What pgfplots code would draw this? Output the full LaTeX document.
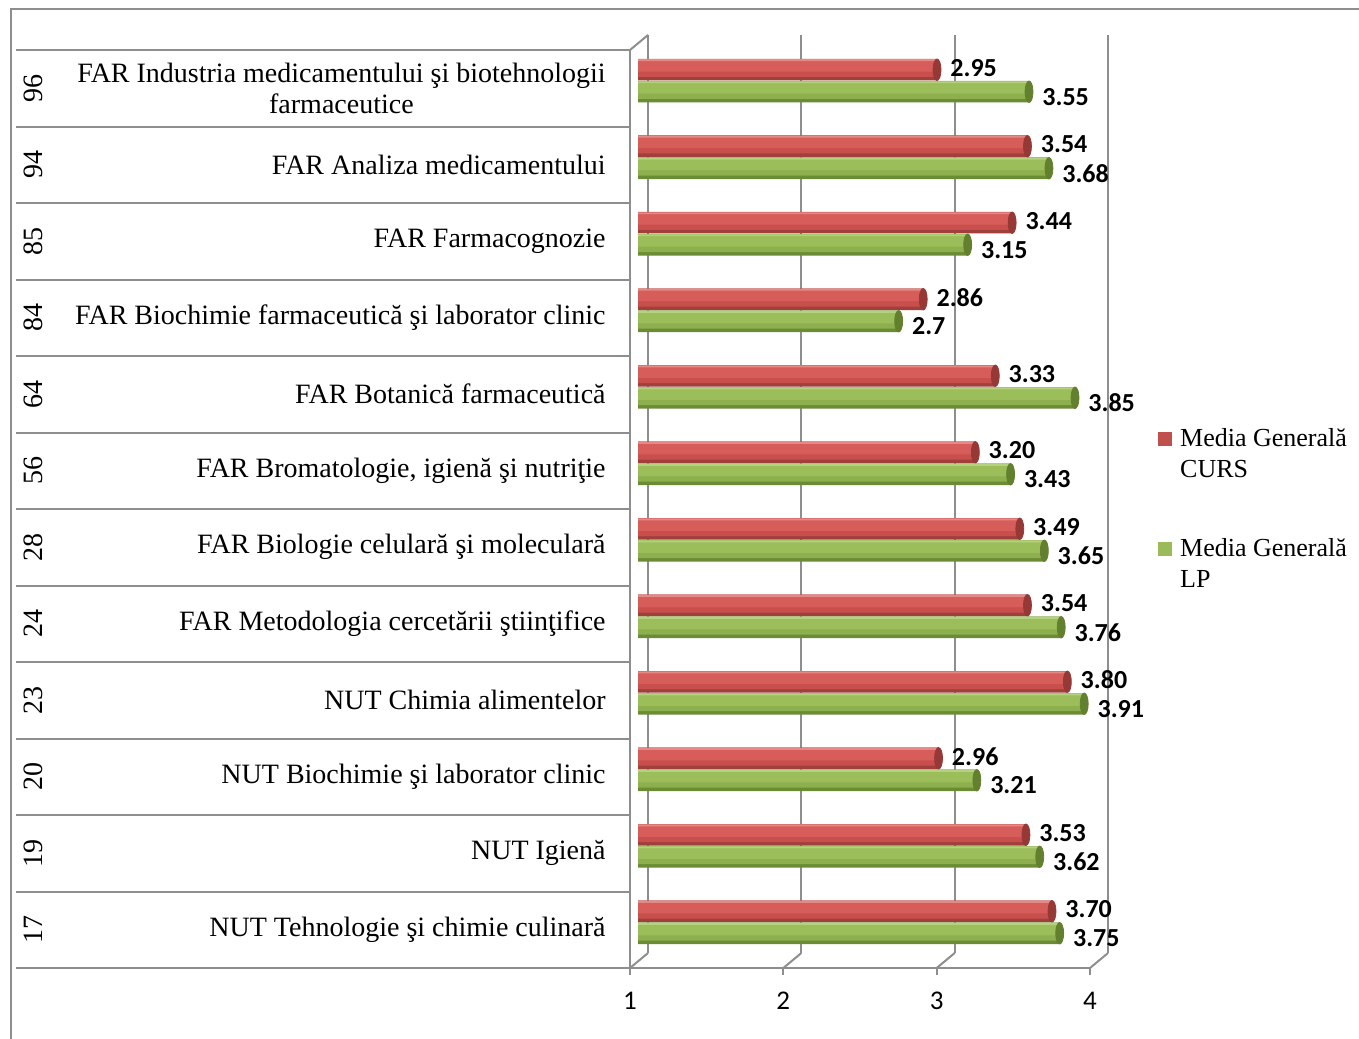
\documentclass[border=0pt]{standalone}
\usepackage{pgfplots}
\pgfplotsset{compat=1.18}
\usepackage{pgfplotstable}
\usepackage{fontspec}
\setmainfont{Liberation Serif}
\newfontfamily\carlito{Carlito}
\definecolor{gridgray}{HTML}{8E8E8E}
\definecolor{r1}{HTML}{A0403D}
\definecolor{r2}{HTML}{C94F4D}
\definecolor{r3}{HTML}{D65D5A}
\definecolor{r4}{HTML}{E48986}
\definecolor{rc}{HTML}{963836}
\definecolor{g1}{HTML}{6B8B35}
\definecolor{g2}{HTML}{8DAF4D}
\definecolor{g3}{HTML}{9BBD5A}
\definecolor{g4}{HTML}{B5D07F}
\definecolor{gc}{HTML}{62802D}
\definecolor{legr}{HTML}{C0504D}
\definecolor{legg}{HTML}{9BBB59}

\pgfplotstableread{
y curs cl lp ll
0 3.70 3.70 3.75 3.75
1 3.53 3.53 3.62 3.62
2 2.96 2.96 3.21 3.21
3 3.80 3.80 3.91 3.91
4 3.54 3.54 3.76 3.76
5 3.49 3.49 3.65 3.65
6 3.20 3.20 3.43 3.43
7 3.33 3.33 3.85 3.85
8 2.86 2.86 2.7 2.7
9 3.44 3.44 3.15 3.15
10 3.54 3.54 3.68 3.68
11 2.95 2.95 3.55 3.55
}\data

\begin{document}
\begin{tikzpicture}
\useasboundingbox (0,0) rectangle (679.5pt,-519pt);
% front frame, ticks, category labels, back-wall grid
\begin{axis}[
  at={(315pt,-484pt)}, anchor=south west,
  scale only axis, width=230pt, height=459pt,
  xmin=1, xmax=4, ymin=-0.5, ymax=11.5,
  clip=false,
  axis x line*=bottom, axis y line*=left,
  axis line style={gridgray, line width=1pt},
  tick align=outside,
  major tick length=3.5pt,
  minor tick length=307pt,
  xtick={1,2,3,4},
  /pgf/number format/assume math mode=true,
  xticklabel style={font=\fontsize{13.5}{15}\carlito, inner sep=0pt, yshift=-8.5pt},
  x tick style={gridgray, line width=1pt},
  ytick={0,...,11},
  minor ytick={-0.5,0.5,...,11.5},
  major y tick style={draw=none},
  minor y tick style={draw=gridgray, line width=1pt},
  yticklabels={
    NUT Tehnologie şi chimie culinară,
    NUT Igienă,
    NUT Biochimie şi laborator clinic,
    NUT Chimia alimentelor,
    FAR Metodologia cercetării ştiinţifice,
    FAR Biologie celulară şi moleculară,
    {FAR Bromatologie, igienă şi nutriţie},
    FAR Botanică farmaceutică,
    FAR Biochimie farmaceutică şi laborator clinic,
    FAR Farmacognozie,
    FAR Analiza medicamentului,
    {FAR Industria medicamentului şi biotehnologii\\farmaceutice}},
  yticklabel style={font=\fontsize{14}{15.5}\selectfont, inner sep=0pt, align=center, xshift=-8.5pt},
  extra y ticks={0,...,11},
  extra y tick labels={17,19,20,23,24,28,56,64,84,85,94,96},
  extra y tick style={tick style={draw=none}, yticklabel style={anchor=center, xshift=-286.5pt, rotate=90}},
  xmajorgrids,
  x grid style={gridgray, line width=1pt, xshift=9pt, yshift=7.5pt},
]
\draw[gridgray, line width=1pt] (axis cs:1,-0.5) -- ++(9pt,7.5pt);
\draw[gridgray, line width=1pt] (axis cs:2,-0.5) -- ++(9pt,7.5pt);
\draw[gridgray, line width=1pt] (axis cs:3,-0.5) -- ++(9pt,7.5pt);
\draw[gridgray, line width=1pt] (axis cs:4,-0.5) -- ++(9pt,7.5pt);
\draw[gridgray, line width=1pt] (axis cs:1,11.5) -- ++(9pt,7.5pt);
\end{axis}
% bars
\begin{axis}[
  at={(319pt,-480.25pt)}, anchor=south west,
  scale only axis, width=230pt, height=459pt,
  xmin=1, xmax=4, ymin=-0.5, ymax=11.5,
  hide axis,
  legend style={at={(1.1304,0.580)}, anchor=north west, draw=none, fill=none,
    inner sep=0pt, font=\fontsize{13}{15.5}\selectfont, row sep=29pt, column sep=4pt,
    nodes={inner sep=0pt}, cells={align=left}},
  legend cell align=left,
]
% CURS (red)
\addplot[xbar, bar width=0.2810, bar shift=0.1438, fill=r1, draw=none, forget plot,
  nodes near coords, point meta=explicit symbolic,
  nodes near coords style={anchor=west, inner sep=0pt, xshift=6.5pt, yshift=6.5pt, font=\fontsize{13}{15}\carlito\bfseries, text=black}]
  table[x=curs, y=y, meta=cl] {\data};
\addplot[xbar, bar width=0.2353, bar shift=0.1667, fill=r2, draw=none, forget plot] table[x=curs, y=y] {\data};
\addplot[xbar, bar width=0.1438, bar shift=0.1896, fill=r3, draw=none, forget plot] table[x=curs, y=y] {\data};
\addplot[xbar, bar width=0.0261, bar shift=0.2680, fill=r4, draw=none, forget plot] table[x=curs, y=y] {\data};
\addplot[only marks, mark=*, mark size=5.375pt, color=rc, mark options={draw=none, fill=rc, xscale=0.37}, forget plot]
  table[x=curs, y expr=\thisrow{y}+0.1438] {\data};
% LP (green)
\addplot[xbar, bar width=0.2810, bar shift=-0.1438, fill=g1, draw=none, forget plot,
  nodes near coords, point meta=explicit symbolic,
  nodes near coords style={anchor=west, inner sep=0pt, xshift=6.5pt, yshift=-8pt, font=\fontsize{13}{15}\carlito\bfseries, text=black}]
  table[x=lp, y=y, meta=ll] {\data};
\addplot[xbar, bar width=0.2353, bar shift=-0.1209, fill=g2, draw=none, forget plot] table[x=lp, y=y] {\data};
\addplot[xbar, bar width=0.1438, bar shift=-0.0980, fill=g3, draw=none, forget plot] table[x=lp, y=y] {\data};
\addplot[xbar, bar width=0.0261, bar shift=-0.0196, fill=g4, draw=none, forget plot] table[x=lp, y=y] {\data};
\addplot[only marks, mark=*, mark size=5.375pt, color=gc, mark options={draw=none, fill=gc, xscale=0.37}, forget plot]
  table[x=lp, y expr=\thisrow{y}-0.1438] {\data};
\addlegendimage{legend image code/.code={\fill[legr] (0pt,4.75pt) rectangle (6.5pt,11.25pt);}}
\addlegendentry{Media Generală\\CURS}
\addlegendimage{legend image code/.code={\fill[legg] (0pt,4.75pt) rectangle (6.5pt,11.25pt);}}
\addlegendentry{Media Generală\\LP}
\end{axis}
\draw[gridgray, line width=1pt] (5.25pt,-525pt) -- (5.25pt,-4.5pt) -- (690pt,-4.5pt);
\end{tikzpicture}
\end{document}
